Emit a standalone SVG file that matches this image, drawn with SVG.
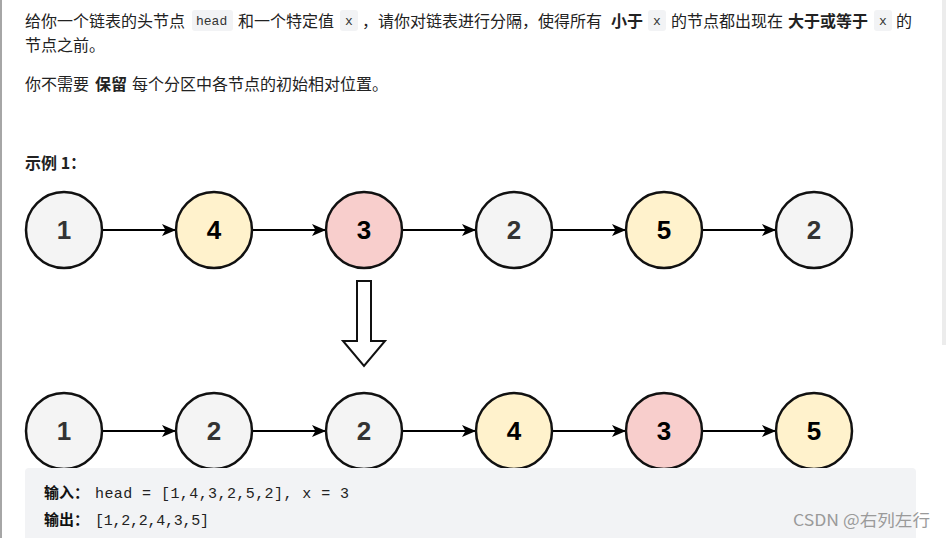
<svg xmlns="http://www.w3.org/2000/svg" width="946" height="538" viewBox="0 0 946 538">
<style>
.t{font-family:"Noto Sans CJK SC","Liberation Sans",sans-serif;font-size:16px;fill:#222}
.b{font-weight:bold}
.code{font-family:"Liberation Mono",monospace;font-size:13px;fill:#333}
.cb{fill:#f2f3f5}
.n circle{stroke:#111;stroke-width:2.5}
.g{fill:#f4f4f4}
.y{fill:#fff2cc}
.r{fill:#f8cecc}
.n text{font-family:"Liberation Sans",Arial,sans-serif;font-weight:bold;font-size:26px;text-anchor:middle}
.dg{fill:#333}
.bk{fill:#000}
.edge{stroke:#000;stroke-width:2;fill:none;marker-end:url(#ah)}
.m{font-family:"Liberation Mono",monospace;font-size:15px;fill:#222}
.ib{font-family:"Noto Sans CJK SC",sans-serif;font-size:15px;font-weight:bold;fill:#111}
</style>
<defs>
<marker id="ah" markerWidth="14" markerHeight="12" viewBox="0 0 14 12" refX="14" refY="6" orient="auto" markerUnits="userSpaceOnUse">
<path d="M0,0 L14,6 L0,12 L3.5,6 Z" fill="#000"/>
</marker>
</defs>
<rect x="0" y="0" width="946" height="538" fill="#fff"/>
<rect x="0" y="0" width="2" height="538" fill="#a6a6a6"/>
<rect x="942" y="0" width="4" height="345" fill="#ececec"/>

<g id="intro">
<text class="t" x="25" y="27">给你一个链表的头节点</text>
<rect class="cb" x="192" y="10" width="41" height="21" rx="3"/>
<text class="code" x="196" y="25">head</text>
<text class="t" x="238" y="27">和一个特定值</text>
<rect class="cb" x="340" y="10" width="18" height="21" rx="3"/>
<text class="code" x="345" y="25">x</text>
<text class="t" x="362" y="27">，请你对链表进行分隔，使得所有</text>
<text class="t b" x="611" y="27">小于</text>
<rect class="cb" x="648" y="10" width="18" height="21" rx="3"/>
<text class="code" x="653" y="25">x</text>
<text class="t" x="671" y="27">的节点都出现在</text>
<text class="t b" x="788" y="27">大于或等于</text>
<rect class="cb" x="874" y="10" width="18" height="21" rx="3"/>
<text class="code" x="879" y="25">x</text>
<text class="t" x="896" y="27">的</text>
<text class="t" x="25" y="51">节点之前。</text>
<text class="t" x="25" y="90">你不需要</text>
<text class="t b" x="95" y="90">保留</text>
<text class="t" x="132" y="90">每个分区中各节点的初始相对位置。</text>
<text class="t b" x="25" y="169" font-size="15">示例 1：</text>
</g>

<g id="connectors">
<line class="edge" x1="102" y1="230" x2="176" y2="230"/>
<line class="edge" x1="252" y1="230" x2="326" y2="230"/>
<line class="edge" x1="402" y1="230" x2="476" y2="230"/>
<line class="edge" x1="552" y1="230" x2="626" y2="230"/>
<line class="edge" x1="702" y1="230" x2="776" y2="230"/>
<line class="edge" x1="102" y1="431" x2="176" y2="431"/>
<line class="edge" x1="252" y1="431" x2="326" y2="431"/>
<line class="edge" x1="402" y1="431" x2="476" y2="431"/>
<line class="edge" x1="552" y1="431" x2="626" y2="431"/>
<line class="edge" x1="702" y1="431" x2="776" y2="431"/>
</g>

<g id="a1" class="n"><circle class="g" cx="64" cy="230" r="38"/><text class="dg" x="64" y="239">1</text></g>
<g id="a2" class="n"><circle class="y" cx="214" cy="230" r="38"/><text class="bk" x="214" y="239">4</text></g>
<g id="a3" class="n"><circle class="r" cx="364" cy="230" r="38"/><text class="bk" x="364" y="239">3</text></g>
<g id="a4" class="n"><circle class="g" cx="514" cy="230" r="38"/><text class="dg" x="514" y="239">2</text></g>
<g id="a5" class="n"><circle class="y" cx="664" cy="230" r="38"/><text class="bk" x="664" y="239">5</text></g>
<g id="a6" class="n"><circle class="g" cx="814" cy="230" r="38"/><text class="dg" x="814" y="239">2</text></g>

<g id="downarrow">
<polygon points="357,281 371,281 371,341 385,341 364,366 343,341 357,341" fill="#fff" stroke="#111" stroke-width="2" stroke-linejoin="miter"/>
</g>

<g id="b1" class="n"><circle class="g" cx="64" cy="431" r="38"/><text class="dg" x="64" y="440">1</text></g>
<g id="b2" class="n"><circle class="g" cx="214" cy="431" r="38"/><text class="dg" x="214" y="440">2</text></g>
<g id="b3" class="n"><circle class="g" cx="364" cy="431" r="38"/><text class="dg" x="364" y="440">2</text></g>
<g id="b4" class="n"><circle class="y" cx="514" cy="431" r="38"/><text class="bk" x="514" y="440">4</text></g>
<g id="b5" class="n"><circle class="r" cx="664" cy="431" r="38"/><text class="bk" x="664" y="440">3</text></g>
<g id="b6" class="n"><circle class="y" cx="814" cy="431" r="38"/><text class="bk" x="814" y="440">5</text></g>

<g id="example">
<rect x="25" y="468" width="891" height="80" rx="4" fill="#f2f3f5"/>
<text class="ib" x="44" y="498">输入：</text>
<text class="m" x="95" y="498" textLength="254" lengthAdjust="spacing">head = [1,4,3,2,5,2], x = 3</text>
<text class="ib" x="44" y="525">输出：</text>
<text class="m" x="95" y="525" textLength="114" lengthAdjust="spacing">[1,2,2,4,3,5]</text>
<text x="793" y="526" font-family="Noto Sans CJK SC,Liberation Sans,sans-serif" font-size="16" fill="#9a9a9a" textLength="137" lengthAdjust="spacingAndGlyphs">CSDN @右列左行</text>
</g>
</svg>
